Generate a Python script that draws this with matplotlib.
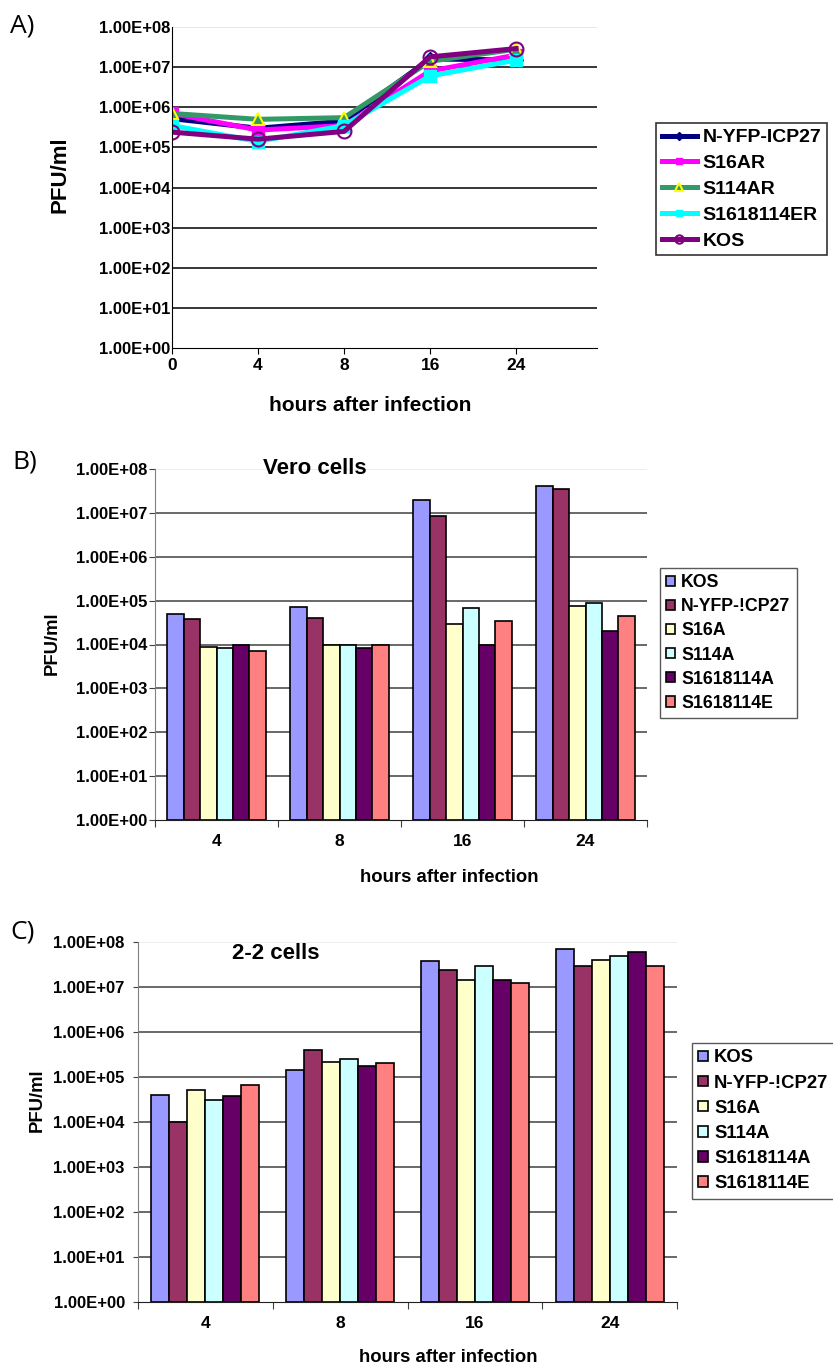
import numpy as np
import matplotlib.pyplot as plt
from matplotlib.ticker import FixedLocator, NullLocator

plt.rcParams['font.family'] = ['Liberation Sans', 'DejaVu Sans']
plt.rcParams['font.weight'] = 'bold'

# ---------------- data ----------------
# panel A : line chart
hours_a = ["0", "4", "8", "16", "24"]
line_names = ["N-YFP-ICP27", "S16AR", "S114AR", "S1618114ER", "KOS"]
nyfp_a = [5.2e5, 3.0e5, 4.5e5, 1.6e7, 1.5e7]
s16ar_a = [7.0e5, 2.7e5, 3.5e5, 8.0e6, 2.0e7]
s114ar_a = [7.0e5, 5.0e5, 5.5e5, 1.4e7, 2.8e7]
s1618er_a = [3.5e5, 1.4e5, 3.5e5, 6.0e6, 1.5e7]
kos_a = [2.4e5, 1.6e5, 2.5e5, 1.8e7, 2.9e7]

# panels B and C : bar charts
hours_bc = ["4", "8", "16", "24"]
bar_names = ["KOS", "N-YFP-!CP27", "S16A", "S114A", "S1618114A", "S1618114E"]
vero = {
    "KOS":         [5.0e4, 7.3e4, 2.0e7, 4.1e7],
    "N-YFP-!CP27": [3.9e4, 4.1e4, 8.5e6, 3.5e7],
    "S16A":        [9.0e3, 9.7e3, 3.0e4, 7.7e4],
    "S114A":       [8.2e3, 9.7e3, 6.9e4, 9.0e4],
    "S1618114A":   [9.5e3, 8.5e3, 9.5e3, 2.0e4],
    "S1618114E":   [7.0e3, 9.5e3, 3.4e4, 4.4e4],
}
cells22 = {
    "KOS":         [4.0e4, 1.4e5, 3.8e7, 7.0e7],
    "N-YFP-!CP27": [1.0e4, 4.0e5, 2.4e7, 2.9e7],
    "S16A":        [5.1e4, 2.2e5, 1.45e7, 4.0e7],
    "S114A":       [3.1e4, 2.5e5, 2.9e7, 4.9e7],
    "S1618114A":   [3.8e4, 1.8e5, 1.45e7, 6.0e7],
    "S1618114E":   [6.6e4, 2.0e5, 1.2e7, 2.9e7],
}

line_colors = ["#000080", "#FF00FF", "#339966", "#00FFFF", "#800080"]
bar_colors = ["#9999FF", "#993366", "#FFFFCC", "#CCFFFF", "#660066", "#FF8080"]

W, H = 833, 1365
fig = plt.figure(figsize=(W / 100, H / 100), dpi=100)


def px_axes(l, t, r, b):
    return fig.add_axes([l / W, 1 - b / H, (r - l) / W, (b - t) / H])


def log_y(ax, gcol, toplight):
    ax.set_yscale('log')
    ax.set_ylim(1, 1e8)
    decs = [10.0 ** k for k in range(9)]
    ax.yaxis.set_major_locator(FixedLocator(decs))
    ax.yaxis.set_minor_locator(NullLocator())
    ax.set_yticklabels(["1.00E+%02d" % k for k in range(9)], fontsize=12, fontweight='bold')
    ax.grid(axis='y', color=gcol, lw=1.1)
    gl = ax.yaxis.get_gridlines()
    gl[-1].set_color(toplight)
    gl[0].set_visible(False)
    ax.set_axisbelow(True)
    for s in ['top', 'right']:
        ax.spines[s].set_visible(False)


# ---------------- A ----------------
axA = px_axes(172, 27, 597, 348)
log_y(axA, "black", "#e0e0e0")
xa = np.arange(len(hours_a))
series_a = [nyfp_a, s16ar_a, s114ar_a, s1618er_a, kos_a]
mk = [dict(marker='D', ms=7, mfc=line_colors[0], mec=line_colors[0]),
      dict(marker='s', ms=8, mfc=line_colors[1], mec=line_colors[1]),
      dict(marker='^', ms=9, mfc=line_colors[2], mec="#FFFF00", mew=1.5),
      dict(marker='s', ms=8, mfc=line_colors[3], mec=line_colors[3]),
      dict(marker='o', ms=10, mfc='none', mec=line_colors[4], mew=1.5)]
for vals, name, col, m in zip(series_a, line_names, line_colors, mk):
    axA.plot(xa, vals, color=col, lw=3.6, label=name, **m)
axA.set_xlim(0, 4.94)
axA.set_xticks(xa)
axA.set_xticklabels(hours_a, fontsize=12.5, fontweight='bold')
axA.tick_params(axis='x', direction='out', length=4, pad=3)
axA.tick_params(axis='y', length=0, pad=1)
axA.spines['left'].set_color('black')
axA.spines['bottom'].set_color('black')
axA.text(0.466, -0.178, "hours after infection", transform=axA.transAxes,
         ha='center', va='center', fontsize=15, fontweight='bold')
axA.text(-0.264, 0.539, "PFU/ml", transform=axA.transAxes, rotation=90,
         ha='center', va='center', fontsize=16, fontweight='bold')
legA = axA.legend(loc='upper left', bbox_to_anchor=(656 / W, 1 - 123 / H),
                  bbox_transform=fig.transFigure, frameon=True, fancybox=False,
                  edgecolor='black', prop={'size': 14, 'weight': 'bold'},
                  handlelength=1.8, handletextpad=0.3, labelspacing=0.42,
                  borderpad=0.3, borderaxespad=0, markerscale=0.6)
legA.get_frame().set_linewidth(1.2)


# ---------------- B / C ----------------
def bar_panel(ax, data, title, tpos, fs_leg, leg_xy, xl_pos, yl_pos, lsp, ypad, ylen):
    log_y(ax, "#404040", "#e8e8e8")
    w = 1 / 7.5
    xc = np.arange(len(hours_bc))
    for j, (name, col) in enumerate(zip(bar_names, bar_colors)):
        ax.bar(xc + (j - 2.5) * w, data[name], width=w, bottom=1, color=col,
               edgecolor='black', lw=1.2, label=name, zorder=3)
    ax.set_xlim(-0.5, len(hours_bc) - 0.5)
    ax.set_xticks(np.arange(len(hours_bc) + 1) - 0.5)
    ax.set_xticklabels([])
    ax.set_xticks(xc, minor=True)
    ax.set_xticklabels(hours_bc, minor=True, fontsize=12.5, fontweight='bold')
    ax.tick_params(axis='x', which='major', direction='out', length=5, color='#404040')
    ax.tick_params(axis='x', which='minor', length=0, pad=10)
    ax.tick_params(axis='y', direction='out', length=ylen, pad=ypad, color='#404040')
    ax.spines['left'].set_color('#808080')
    ax.spines['bottom'].set_color('#202020')
    ax.text(tpos[0], tpos[1], title, transform=ax.transAxes, ha='center',
            va='center', fontsize=16, fontweight='bold')
    ax.text(xl_pos[0], xl_pos[1], "hours after infection", transform=ax.transAxes,
            ha='center', va='center', fontsize=13.3, fontweight='bold')
    ax.text(yl_pos[0], yl_pos[1], "PFU/ml", transform=ax.transAxes, rotation=90,
            ha='center', va='center', fontsize=13.3, fontweight='bold')
    leg = ax.legend(loc='upper left', bbox_to_anchor=leg_xy,
                    bbox_transform=fig.transFigure, frameon=True, fancybox=False,
                    edgecolor='#303030', prop={'size': fs_leg, 'weight': 'bold'},
                    handlelength=0.5, handleheight=0.5, handletextpad=0.35,
                    labelspacing=lsp, borderpad=0.35, borderaxespad=0)
    leg.get_frame().set_linewidth(1.0)


axB = px_axes(155, 469, 647, 820)
bar_panel(axB, vero, "Vero cells", (0.325, 1.0), 12.8, (660 / W, 1 - 568 / H),
          (0.598, -0.165), (-0.209, 0.504), 0.4, 1, 4.5)

axC = px_axes(138, 942, 677, 1302)
bar_panel(axC, cells22, "2-2 cells", (0.256, 0.969), 13.3, (692 / W, 1 - 1043 / H),
          (0.575, -0.153), (-0.186, 0.561), 0.44, 6, 3.5)

# panel letters
for lab, (x, y) in zip(["A)", "B)", "C)"], [(22, 26), (25, 462), (23, 932)]):
    fig.text(x / W, 1 - y / H, lab, ha='center', va='center', fontsize=19,
             fontweight='normal', family='Open Sans')

fig.savefig("out.png", dpi=100)
